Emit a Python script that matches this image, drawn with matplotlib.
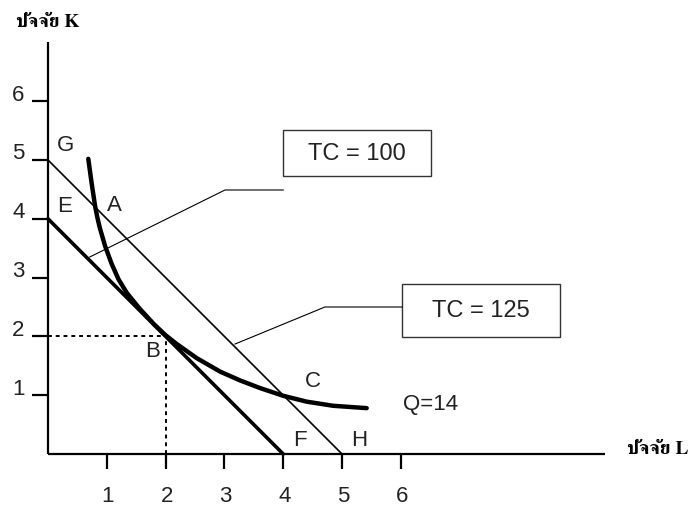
import matplotlib
matplotlib.use("Agg")
import matplotlib.pyplot as plt
from matplotlib import font_manager
from matplotlib.ft2font import FT2Font
from matplotlib.patches import Rectangle

# ---------------- data ----------------
L_ticks = [1, 2, 3, 4, 5, 6]
K_ticks = [1, 2, 3, 4, 5, 6]
isocost_low = 4      # E-F : K = 4 - L
isocost_high = 5     # G-H : K = 5 - L
optimum = (2, 2)     # point B
isoquant_L = [0.685, 0.743, 0.80, 0.84, 0.88, 0.97, 1.08, 1.20, 1.34, 1.56, 1.80, 2.00,
              2.19, 2.53, 2.93, 3.27, 3.61, 4.00, 4.40, 4.85, 5.42]
isoquant_K = [5.02, 4.60, 4.22, 4.02, 3.85, 3.54, 3.24, 2.97, 2.74, 2.47, 2.21, 2.02,
              1.87, 1.63, 1.40, 1.25, 1.12, 0.99, 0.89, 0.82, 0.78]
point_names = ["G", "E", "A", "B", "C", "F", "H"]
tc_labels = ["TC = 100", "TC = 125"]
q_label = "Q=14"
x_title = "ปัจจัย L"
y_title = "ปัจจัย K"

# ------------- thai font ---------------
def find_thai_font():
    cands = []
    for f in font_manager.fontManager.ttflist:
        try:
            cm = FT2Font(f.fname).get_charmap()
        except Exception:
            continue
        if ord("ป") in cm and ord("K") in cm:
            score = 0
            n = f.name.lower()
            if "serif" in n or "norasi" in n or "times" in n:
                score += 2
            if f.weight in ("bold", 700) or (isinstance(f.weight, int) and f.weight >= 700):
                score += 1
            cands.append((score, f.name))
    if cands:
        cands.sort(reverse=True)
        return cands[0][1]
    return None

thai = find_thai_font()
thai_family = [thai, "DejaVu Serif"] if thai else ["DejaVu Serif"]

plt.rcParams["font.family"] = ["Liberation Sans", "DejaVu Sans"]

W, H, DPI = 690, 510, 100
fig = plt.figure(figsize=(W / DPI, H / DPI), dpi=DPI)
ax = fig.add_axes([0, 0, 1, 1])
s = 58.8
ox, oy = 48, 455
ax.set_xlim(-ox / s, (W - ox) / s)
ax.set_ylim(-(H - oy) / s, oy / s)
ax.axis("off")

# axes
ax.plot([0, 9.47], [0, 0], color="black", lw=1.6, solid_capstyle="butt")
ax.plot([0, 0], [0, 7.0], color="black", lw=1.6, solid_capstyle="butt")
for t in L_ticks:
    ax.plot([t, t], [0, -0.255], color="black", lw=1.6, solid_capstyle="butt")
    ax.text(t + 0.02, -0.71, str(t), ha="center", va="center", fontsize=16, color="#222222")
for t in K_ticks:
    ax.plot([0, -0.27], [t, t], color="black", lw=1.6, solid_capstyle="butt")
    ax.text(-0.40, t + 0.12, str(t), ha="right", va="center", fontsize=16, color="#222222")

ax.text(-0.54, 7.36, y_title, ha="left", va="center", fontsize=14, fontweight="bold",
        family=thai_family)
ax.text(9.85, 0.10, x_title, ha="left", va="center", fontsize=14, fontweight="bold",
        family=thai_family)

# isocost lines
ax.plot([0, isocost_high], [isocost_high, 0], color="black", lw=1.2)
ax.plot([0, isocost_low], [isocost_low, 0], color="black", lw=2.6)

# isoquant
ax.plot(isoquant_L, isoquant_K, color="black", lw=3.2, solid_capstyle="round",
        solid_joinstyle="round")

# dotted guides to optimum
bx, by = optimum
ax.plot([0, bx], [by, by], color="black", lw=1.4, linestyle=(0, (2, 2)))
ax.plot([bx, bx], [0, by], color="black", lw=1.4, linestyle=(0, (2, 2)))

# point labels
pos = {"G": (0.30, 5.26), "E": (0.28, 4.23), "A": (1.13, 4.24), "B": (1.78, 1.76),
       "C": (4.50, 1.25), "F": (4.29, 0.25), "H": (5.30, 0.25)}
for n in point_names:
    x, y = pos[n]
    ax.text(x, y, n, ha="center", va="center", fontsize=16, color="#222222")
ax.text(6.04, 0.86, q_label, ha="left", va="center", fontsize=16, color="#222222")

# TC callouts
ax.plot([0.71, 3.01, 4.0], [3.35, 4.49, 4.49], color="black", lw=0.8)
ax.add_patch(Rectangle((4.0, 4.73), 2.51, 0.78, fill=False, edgecolor="#333333", lw=1.0))
ax.text(5.26, 5.12, tc_labels[0], ha="center", va="center", fontsize=17, color="#222222")

ax.plot([3.18, 4.71, 6.02], [1.87, 2.50, 2.50], color="black", lw=0.8)
ax.add_patch(Rectangle((6.02, 1.99), 2.69, 0.90, fill=False, edgecolor="#333333", lw=1.0))
ax.text(7.36, 2.45, tc_labels[1], ha="center", va="center", fontsize=17, color="#222222")

fig.savefig("out.png", dpi=DPI)
